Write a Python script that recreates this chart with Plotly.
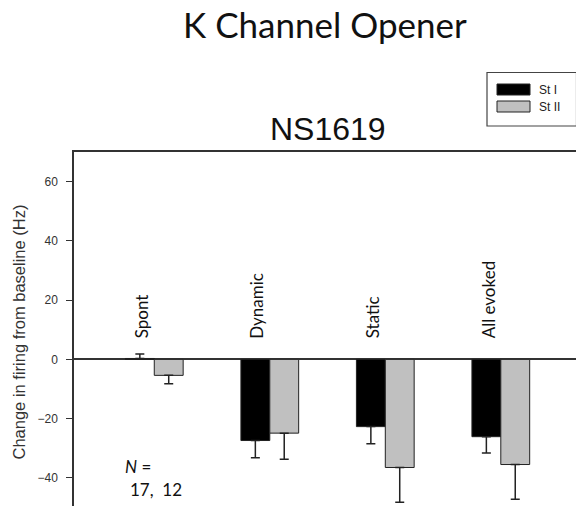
import plotly.graph_objects as go

# Data: change in firing from baseline (Hz), mean and SEM per ending type
categories = ["Spont", "Dynamic", "Static", "All evoked"]
series_names = ["St I", "St II"]
st1_mean = [0.3, -27.4, -22.7, -26.1]
st1_sem = [1.5, 5.8, 5.8, 5.5]
st2_mean = [-5.4, -24.9, -36.5, -35.5]
st2_sem = [2.8, 8.8, 11.7, 11.7]
y_ticks = [-40, -20, 0, 20, 40, 60]
n_counts = [17, 12]

W, H = 576, 506
ML, MT = 74, 152
PW, PH = W - ML, H - MT


def px(x):
    return (x - ML) / PW


def py(y):
    return (H - y) / PH


def one_sided(means, sems):
    # error bars point away from zero
    plus = [s if m >= 0 else 0 for m, s in zip(means, sems)]
    minus = [s if m < 0 else 0 for m, s in zip(means, sems)]
    return plus, minus


fig = go.Figure()
for name, means, sems, fill in [
    (series_names[0], st1_mean, st1_sem, "#000000"),
    (series_names[1], st2_mean, st2_sem, "#c0c0c0"),
]:
    plus, minus = one_sided(means, sems)
    fig.add_trace(go.Bar(
        x=categories, y=means, name=name,
        marker=dict(color=fill, line=dict(color="#222222", width=1)),
        error_y=dict(type="data", symmetric=False, array=plus, arrayminus=minus,
                     color="#222222", thickness=1.5, width=4.5),
        showlegend=False,
    ))

fig.update_layout(
    width=W, height=H,
    margin=dict(l=ML, r=0, t=MT, b=0, pad=0),
    paper_bgcolor="white", plot_bgcolor="white",
    barmode="group", bargap=0.5, bargroupgap=0,
    font=dict(family="Liberation Sans, Arial, sans-serif", color="#222"),
)
fig.update_xaxes(
    range=[-0.695, 3.651], showticklabels=False, ticks="",
    showline=True, side="top", linecolor="#333333", linewidth=1.5,
    showgrid=False, zeroline=False,
)
fig.update_yaxes(
    range=[-49.5, 70], tickvals=y_ticks, ticks="outside", ticklen=6,
    tickcolor="#333333", tickwidth=1, ticklabelstandoff=6,
    tickfont=dict(family="Liberation Sans, Arial, sans-serif", size=12, color="#333333"),
    showline=True, linecolor="#333333", linewidth=1.5,
    showgrid=False, zeroline=True, zerolinecolor="#333333", zerolinewidth=1.5,
)

ann = []
# Category labels, rotated, sitting just above the zero line
for i, c in enumerate(categories):
    ann.append(dict(x=i - 0.11, y=6.3, xref="x", yref="y", text=c, showarrow=False,
                    textangle=-90, xanchor="center", yanchor="bottom",
                    font=dict(family="Lato, sans-serif", size=17, color="#111")))

# Titles
ann.append(dict(x=px(325), y=py(47), xref="paper", yref="paper", text="K Channel Opener",
                showarrow=False, xanchor="center", yanchor="bottom",
                font=dict(family="Lato, sans-serif", size=35, color="#111")))
ann.append(dict(x=px(327.5), y=py(149), xref="paper", yref="paper", text="NS1619",
                showarrow=False, xanchor="center", yanchor="bottom",
                font=dict(family="Liberation Sans, Arial, sans-serif", size=32, color="#111")))

# Y axis title
ann.append(dict(x=px(18), y=py(332.5), xref="paper", yref="paper",
                text="Change in firing from baseline (Hz)", showarrow=False,
                textangle=-90, xanchor="center", yanchor="middle",
                font=dict(family="Liberation Sans, Arial, sans-serif", size=16.5, color="#333")))

# Sample sizes
ann.append(dict(x=px(123), y=py(466), xref="paper", yref="paper", text="<i>N</i> =",
                showarrow=False, xanchor="left", yanchor="middle",
                font=dict(family="Lato, sans-serif", size=17, color="#111")))
ann.append(dict(x=px(128), y=py(489), xref="paper", yref="paper",
                text=f"{n_counts[0]},&nbsp; {n_counts[1]}",
                showarrow=False, xanchor="left", yanchor="middle",
                font=dict(family="Lato, sans-serif", size=17, color="#111")))

# Legend box with wide swatches
shapes = [dict(type="rect", xref="paper", yref="paper", x0=px(487), x1=px(576.5),
               y0=py(126), y1=py(72.5), line=dict(color="#444", width=1.2), fillcolor="white")]
for k, (name, fill) in enumerate(zip(series_names, ["#000000", "#c0c0c0"])):
    top = 84 + k * 17
    shapes.append(dict(type="rect", xref="paper", yref="paper", x0=px(497), x1=px(530),
                       y0=py(top + 11), y1=py(top), line=dict(color="#222", width=1),
                       fillcolor=fill))
    ann.append(dict(x=px(537), y=py(top + 5.5), xref="paper", yref="paper", text=name,
                    showarrow=False, xanchor="left", yanchor="middle",
                    font=dict(family="Liberation Sans, Arial, sans-serif", size=12, color="#222")))

fig.update_layout(annotations=ann, shapes=shapes)
fig.write_html("out.html")
